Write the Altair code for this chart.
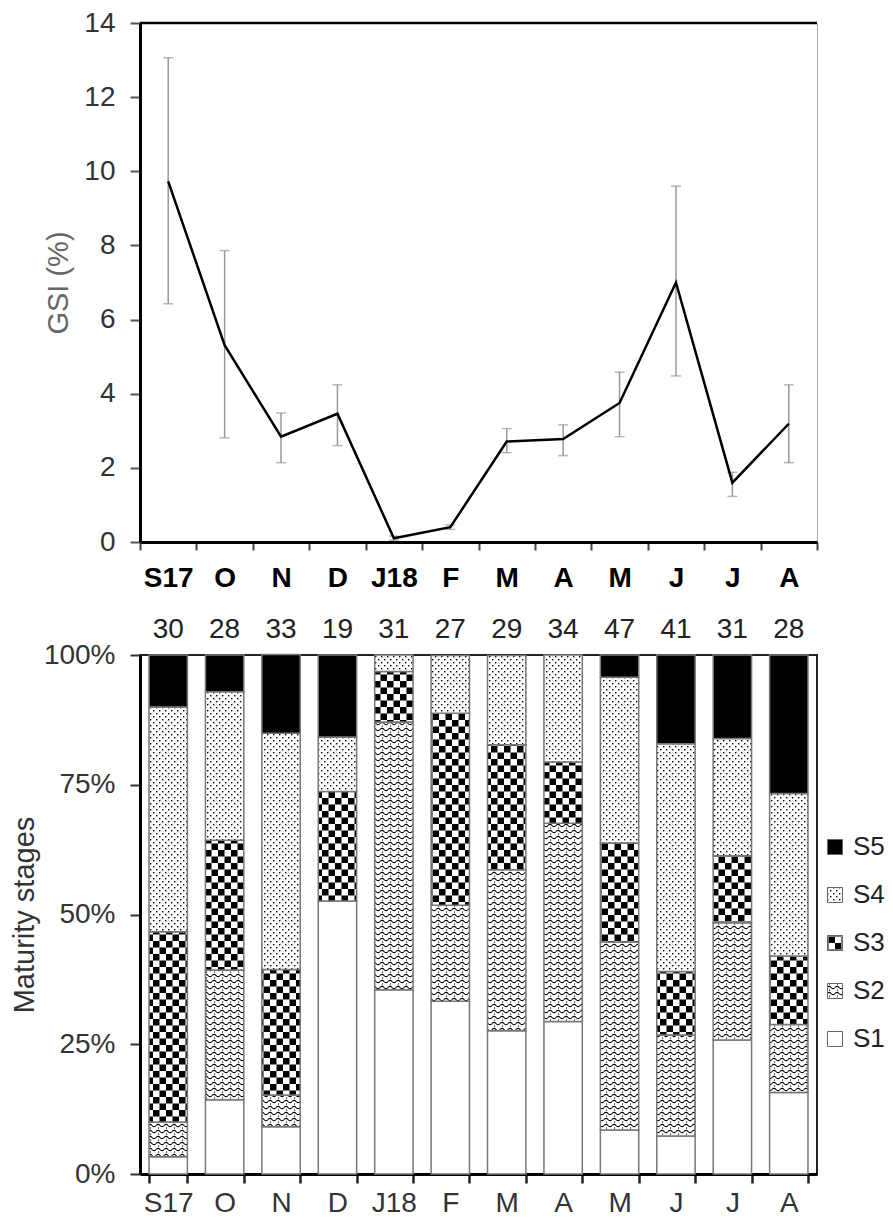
import json
import jinja2
import pandas as pd
import altair as alt

# ---------------- data ----------------
months = ["S17", "O", "N", "D", "J18", "F", "M", "A", "M", "J", "J", "A"]
gsi_mean = [9.73, 5.31, 2.84, 3.46, 0.10, 0.40, 2.71, 2.78, 3.75, 7.00, 1.60, 3.19]
gsi_upper = [13.06, 7.86, 3.48, 4.24, 0.16, 0.46, 3.06, 3.16, 4.58, 9.60, 1.88, 4.24]
gsi_lower = [6.43, 2.81, 2.14, 2.60, 0.05, 0.34, 2.41, 2.33, 2.84, 4.48, 1.23, 2.14]
sample_n = [30, 28, 33, 19, 31, 27, 29, 34, 47, 41, 31, 28]

stages = ["S1", "S2", "S3", "S4", "S5"]
s1 = [3.3, 14.3, 9.1, 52.6, 35.5, 33.3, 27.6, 29.4, 8.5, 7.3, 25.8, 15.7]
s2 = [6.7, 25.0, 6.1, 0.0, 51.6, 18.5, 31.0, 38.2, 36.2, 19.5, 22.6, 13.1]
s3 = [36.7, 25.0, 24.2, 21.1, 9.7, 37.0, 24.1, 11.8, 19.1, 12.2, 12.9, 13.2]
s4 = [43.3, 28.6, 45.5, 10.5, 3.2, 11.1, 17.2, 20.6, 31.9, 43.9, 22.6, 31.3]
s5 = [10.0, 7.1, 15.2, 15.8, 0.0, 0.0, 0.0, 0.0, 4.3, 17.1, 16.1, 26.7]

# ---------------- tables ----------------
idx = list(range(len(months)))
gsi_df = pd.DataFrame({"idx": idx, "gsi": gsi_mean, "hi": gsi_upper, "lo": gsi_lower})
n_df = pd.DataFrame({"idx": idx, "n": sample_n})
rows = []
for k, (name, vals) in enumerate(zip(stages, [s1, s2, s3, s4, s5])):
    for i, v in enumerate(vals):
        if v > 0:
            rows.append({"idx": i, "stage": name, "pct": v, "ord": k})
bar_df = pd.DataFrame(rows)
top_df = pd.DataFrame({"v": [14]})

label_expr = json.dumps(months) + "[datum.value]"
FONT = "Liberation Sans"

# ---------------- top chart ----------------
def xtop():
    return alt.X(
        "idx:O",
        bandPosition=0.5,
        scale=alt.Scale(type="band", paddingInner=0, paddingOuter=0),
        axis=alt.Axis(
            title=None, labelExpr=label_expr, labelAngle=0, labelFontSize=28,
            labelFontWeight="bold", labelColor="black", tickBand="extent",
            tickSize=8, tickColor="#444", tickWidth=2, domainColor="black",
            domainWidth=3, labelPadding=14,
        ),
    )

yaxis_top = alt.Axis(
    title="GSI (%)", values=[0, 2, 4, 6, 8, 10, 12, 14], titleFontSize=29,
    titleColor="#666", titleFontWeight="normal", labelFontSize=28,
    labelColor="#333", tickSize=10, tickColor="#555", tickWidth=2,
    domainColor="black", domainWidth=3, labelPadding=15, titlePadding=10,
)
yscale_top = alt.Scale(domain=[0, 14], nice=False)

base = alt.Chart(gsi_df)
err = base.mark_rule(color="#999", strokeWidth=1.5).encode(
    x=xtop(), y=alt.Y("lo:Q", scale=yscale_top, axis=yaxis_top), y2="hi:Q"
)
cap_hi = base.mark_tick(color="#999", thickness=1.5, size=10).encode(
    x=xtop(), y=alt.Y("hi:Q", scale=yscale_top, axis=yaxis_top)
)
cap_lo = base.mark_tick(color="#999", thickness=1.5, size=10).encode(
    x=xtop(), y=alt.Y("lo:Q", scale=yscale_top, axis=yaxis_top)
)
line = base.mark_line(color="black", strokeWidth=2.5).encode(
    x=xtop(), y=alt.Y("gsi:Q", scale=yscale_top, axis=yaxis_top)
)
frame_top = alt.Chart(top_df).mark_rule(color="black", strokeWidth=2.5).encode(
    y=alt.Y("v:Q", scale=yscale_top, axis=yaxis_top)
)

top = alt.layer(err, cap_hi, cap_lo, line, frame_top).properties(
    width=677, height=519,
    view=alt.ViewBackground(stroke="#aaa", strokeWidth=1),
)

# ---------------- bottom chart ----------------
def xbot():
    return alt.X(
        "idx:O",
        scale=alt.Scale(type="band", paddingInner=0.32, paddingOuter=0.16),
        axis=alt.Axis(
            title=None, labelExpr=label_expr, labelAngle=0, labelFontSize=28,
            labelColor="#333", tickBand="extent", tickSize=9, tickColor="#222",
            tickWidth=2.5, domainColor="black", domainWidth=3, labelPadding=6,
        ),
    )

yaxis_bot = alt.Axis(
    title="Maturity stages", values=[0, 25, 50, 75, 100],
    labelExpr="datum.value + '%'", titleFontSize=29, titleColor="#333",
    titleFontWeight="normal", labelFontSize=28, labelColor="#333",
    tickSize=10, tickColor="#333", tickWidth=2, domainColor="black",
    domainWidth=3, labelPadding=15, titlePadding=4,
)
yscale_bot = alt.Scale(domain=[0, 100], nice=False)

bars = alt.Chart(bar_df).mark_bar(stroke="#777", strokeWidth=1.5).encode(
    x=xbot(),
    y=alt.Y("pct:Q", stack="zero", scale=yscale_bot, axis=yaxis_bot),
    color=alt.Color(
        "stage:N",
        scale=alt.Scale(
            domain=["S5", "S4", "S3", "S2", "S1"],
            range=["black", "url(#pS4)", "url(#pS3)", "url(#pS2)", "white"],
        ),
        legend=alt.Legend(
            title=None, orient="none", legendX=682, legendY=811,
            symbolType="square", symbolSize=225, symbolStrokeColor="#666",
            symbolStrokeWidth=1, labelFontSize=26, labelColor="#222",
            rowPadding=22, padding=0, labelOffset=5,
        ),
    ),
    order=alt.Order("ord:Q", sort="ascending"),
)
counts = alt.Chart(n_df).mark_text(
    fontSize=28, color="#222", dy=-25, baseline="middle"
).encode(x=xbot(), y=alt.datum(100), text="n:Q")

bottom = alt.layer(bars, counts).properties(
    width=677, height=519,
    view=alt.ViewBackground(stroke="#222", strokeWidth=2),
)

chart = alt.vconcat(top, bottom, spacing=22).configure(
    font=FONT, padding={"left": 1, "top": 0, "right": 0, "bottom": 0}
).configure_axis(grid=False)

# ---------------- page template with fill patterns ----------------
PATTERNS = """
<pattern id="pS4" width="6" height="6" patternUnits="userSpaceOnUse">
  <rect width="6" height="6" fill="white"/>
  <rect x="1" y="1" width="1.4" height="1.4" fill="black"/>
  <rect x="4" y="4" width="1.4" height="1.4" fill="black"/>
</pattern>
<pattern id="pS3" width="13" height="13" patternUnits="userSpaceOnUse">
  <rect width="13" height="13" fill="white"/>
  <rect x="0" y="0" width="6.5" height="6.5" fill="black"/>
  <rect x="6.5" y="6.5" width="6.5" height="6.5" fill="black"/>
</pattern>
<pattern id="pS2" width="8" height="6" patternUnits="userSpaceOnUse">
  <rect width="8" height="6" fill="white"/>
  <path d="M0,2.5 Q2,0.3 4,2.5 T8,2.5" fill="none" stroke="black" stroke-width="1.1"/>
  <rect x="2" y="4.5" width="1.1" height="1.1" fill="black"/>
</pattern>
"""

TEMPLATE_SRC = """<!DOCTYPE html>
<html>
<head>
  <meta charset="utf-8">
  <style>
    #{{ output_div }}.vega-embed { width: 100%; display: flex; }
    #{{ output_div }}.vega-embed details,
    #{{ output_div }}.vega-embed details summary { position: relative; }
  </style>
  <script type="text/javascript" src="{{ base_url }}/vega@{{ vega_version }}"></script>
  <script type="text/javascript" src="{{ base_url }}/vega-lite@{{ vegalite_version }}"></script>
  <script type="text/javascript" src="{{ base_url }}/vega-embed@{{ vegaembed_version }}"></script>
</head>
<body>
  <svg width="0" height="0" style="position:absolute">
    <defs>__PATTERNS__</defs>
  </svg>
  <div id="{{ output_div }}"></div>
  <script>
    (function(vegaEmbed) {
      var spec = {{ spec }};
      var embedOpt = {{ embed_options }};
      function showError(el, error) {
        el.innerHTML = '<div style="color:red;"><p>JavaScript Error: ' + error.message + '</p></div>';
        throw error;
      }
      const el = document.getElementById('{{ output_div }}');
      vegaEmbed("#{{ output_div }}", spec, embedOpt).catch(error => showError(el, error));
    })(vegaEmbed);
  </script>
</body>
</html>
""".replace("__PATTERNS__", PATTERNS)

chart.save(
    "out.html",
    embed_options={"renderer": "svg", "actions": False},
    template=jinja2.Template(TEMPLATE_SRC),
)
